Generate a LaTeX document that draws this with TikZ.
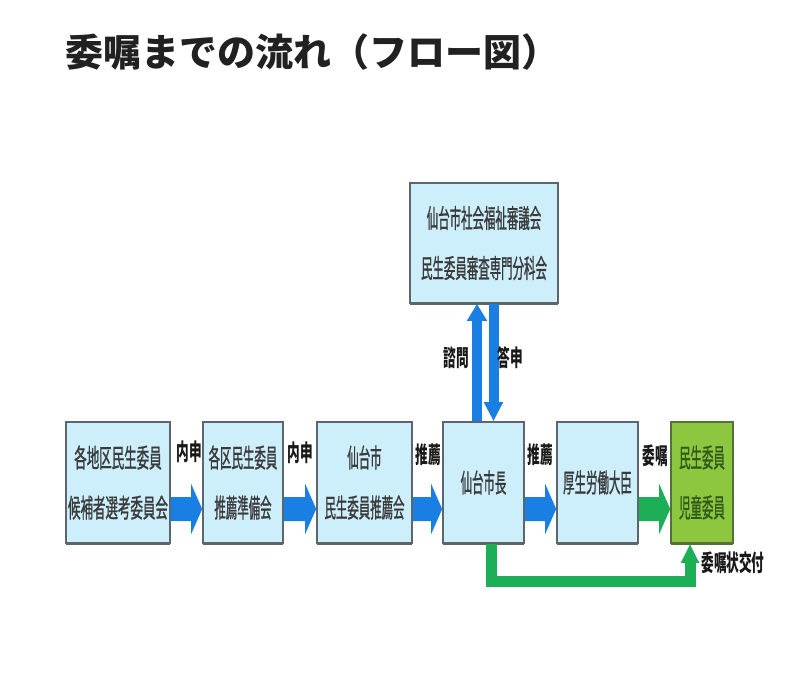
\documentclass[tikz,border=0pt]{standalone}
\usepackage{fontspec}
\setmainfont{Noto Sans CJK JP}
\newfontfamily\bxfont{Noto Sans CJK JP}[FakeStretch=0.44,FakeBold=0.8]
\newfontfamily\bxwfont{Noto Sans CJK JP}[FakeStretch=0.48,FakeBold=0.8]
\newfontfamily\lbfont{Noto Sans CJK JP}[FakeStretch=0.55]
\usetikzlibrary{calc,arrows.meta,shadows}
\definecolor{boxfill}{HTML}{CDEEFB}
\definecolor{boxline}{HTML}{5C666B}
\definecolor{boxtext}{HTML}{3A3A3A}
\definecolor{arrblue}{HTML}{1A7FE3}
\definecolor{arrgreen}{HTML}{1CAF58}
\definecolor{gfill}{HTML}{8DC63F}
\definecolor{gline}{HTML}{56703A}
\definecolor{gtext}{HTML}{2E5A1C}
\newcommand{\blockarr}[3]{%
  \path ($(#1.east)+(0,26.5)$) coordinate (ta) ($(#2.west)+(0,26.5)$) coordinate (tb);
  \fill[#3] ($(ta)+(0,-12)$) -- ($(tb)+(-11,-12)$) -- ($(tb)+(-11,-25)$) -- (tb)
    -- ($(tb)+(-11,25)$) -- ($(tb)+(-11,12)$) -- ($(ta)+(0,12)$) -- cycle;}
\begin{document}
\begin{tikzpicture}[x=1pt,y=-1pt,
  box/.style={draw=boxline, line width=1.6pt, fill=boxfill, inner sep=0pt, align=center,
    text=boxtext, font=\bxfont\fontsize{26}{50}\selectfont,
    drop shadow={shadow xshift=0pt, shadow yshift=-1.5pt, fill=boxline, opacity=1}},
  gbox/.style={box, fill=gfill, draw=gline, text=gtext,
    drop shadow={shadow xshift=0pt, shadow yshift=-1.5pt, fill=gline, opacity=1}},
  lbl/.style={inner sep=0pt, text=black!90, font=\lbfont\bfseries\fontsize{23}{23}\selectfont},
  vblue/.style={arrblue, line width=10pt},
]
\useasboundingbox (0,0) rectangle (800,691);
\node[anchor=west, inner sep=0pt, text=black!87, font=\bfseries\fontsize{38}{38}\selectfont] (title) at (65,52) {委嘱までの流れ（フロー図）};

\node[box, minimum width=104pt, minimum height=121pt, font=\bxwfont\fontsize{26}{50}\selectfont] (b1) at (118,482.5) {各地区民生委員\\候補者選考委員会};
\node[box, minimum width=80pt, minimum height=121pt] (b2) at (243,482.5) {各区民生委員\\推薦準備会};
\node[box, minimum width=95pt, minimum height=121pt] (b3) at (364.5,482.5) {仙台市\\民生委員推薦会};
\node[box, minimum width=81pt, minimum height=121pt] (b4) at (483.5,482.5) {仙台市長};
\node[box, minimum width=81pt, minimum height=121pt] (b5) at (597.5,482.5) {厚生労働大臣};
\node[gbox, minimum width=62pt, minimum height=121pt] (b6) at (702,482.5) {民生委員\\児童委員};
\node[box, minimum width=148pt, minimum height=120pt] (top) at (484,243) {仙台市社会福祉審議会\\民生委員審査専門分科会};

\blockarr{b1}{b2}{arrblue}
\blockarr{b2}{b3}{arrblue}
\blockarr{b3}{b4}{arrblue}
\blockarr{b4}{b5}{arrblue}
\blockarr{b5}{b6}{arrgreen}

\draw[vblue, -{Triangle[length=17pt,width=19pt]}] ($(b4.north)+(-6.5,0)$) coordinate (u1) -- (u1 |- top.south);
\draw[vblue, -{Triangle[length=19pt,width=18pt]}] ($(top.south)+(9.5,0)$) coordinate (d1) -- (d1 |- b4.north);
\draw[arrgreen, line width=11pt, line join=miter, -{Triangle[length=19pt,width=17pt]}]
  ($(b4.south)+(7.5,0)$) -- ++(0,38) -| ($(b6.south)+(-12,0)$);

\node[lbl] (l1) at (189,452) {内申};
\node[lbl] (l2) at (300,453) {内申};
\node[lbl] (l3) at (428,455) {推薦};
\node[lbl] (l4) at (540,455) {推薦};
\node[lbl] (l5) at (655,456) {委嘱};
\node[lbl] (l6) at (456,358) {諮問};
\node[lbl] (l7) at (510,358) {答申};
\node[lbl] (l8) at (733,563) {委嘱状交付};
\end{tikzpicture}
\end{document}
